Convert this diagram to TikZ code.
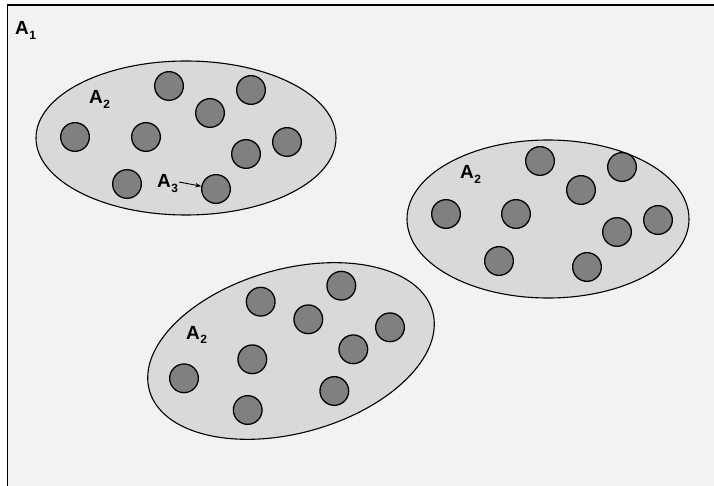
\documentclass[tikz,border=0pt]{standalone}
\usepackage{fontspec}
\setmainfont{Liberation Sans}
\usetikzlibrary{arrows.meta}
\definecolor{paper}{HTML}{F2F2F2}
\definecolor{setfill}{HTML}{D9D9D9}
\definecolor{dotfill}{HTML}{808080}
\tikzset{
  setline/.style={draw=black, line width=1.1pt, fill=setfill},
  elem/.style={circle, draw=black, line width=1.3pt, fill=dotfill, minimum size=28.7pt, inner sep=0pt},
  lab/.style={font=\fontsize{19}{19}\selectfont\bfseries, inner sep=0pt, anchor=base west},
}
\newcommand{\sublab}[2]{#1\kern0.5pt\raisebox{-4.5pt}{\fontsize{12}{12}\selectfont #2}}
\begin{document}
\begin{tikzpicture}[x=1pt, y=-1pt]
\useasboundingbox (0,0) rectangle (714,486);
\fill[white] (0,0) rectangle (714,486);
% outer universe A1
\fill[paper] (7.5,4.7) rectangle (714,486);
\draw[line width=1.7pt] (7.5,490) -- (7.5,4.7) -- (718,4.7);
\node[lab] (a1) at (15,35) {\sublab{A}{1}};

% first subset
\draw[setline] (186,138) ellipse [x radius=150, y radius=77];
\node[lab] (a2a) at (89,104) {\sublab{A}{2}};
\foreach \p/\n in {{(169,86)}/u1,{(251,90)}/u2,{(210,113)}/u3,{(75,137)}/u4,{(146,137)}/u5,{(287,142)}/u6,{(246,154)}/u7,{(127,184)}/u8,{(216,189)}/u9}
  \node[elem] (\n) at \p {};
\node[lab] (a3) at (157,188) {\sublab{A}{3}};
\coordinate (a3tail) at (179,182);
\draw[line width=0.9pt, -{Stealth[length=6pt,width=4.5pt]}] (a3tail) -- (u9);

% second subset
\draw[setline] (548,219) ellipse [x radius=141, y radius=79];
\node[lab] (a2b) at (460,179) {\sublab{A}{2}};
\foreach \p/\n in {{(540,161)}/v1,{(622,167)}/v2,{(581,190)}/v3,{(446,214)}/v4,{(516,214)}/v5,{(658,220)}/v6,{(617,232)}/v7,{(499,261)}/v8,{(587,267)}/v9}
  \node[elem] (\n) at \p {};

% third subset, tilted
\draw[setline, rotate around={15.6:(291,351)}] (291,351) ellipse [x radius=147, y radius=82];
\node[lab] (a2c) at (186,339) {\sublab{A}{2}};
\foreach \p/\n in {{(260.7,301.7)}/w1,{(341.3,285.7)}/w2,{(308.3,319.3)}/w3,{(390,327.3)}/w4,{(353.3,349.3)}/w5,{(252.3,359.3)}/w6,{(184,378.3)}/w7,{(334.3,391)}/w8,{(247.7,410)}/w9}
  \node[elem] (\n) at \p {};
\end{tikzpicture}
\end{document}
